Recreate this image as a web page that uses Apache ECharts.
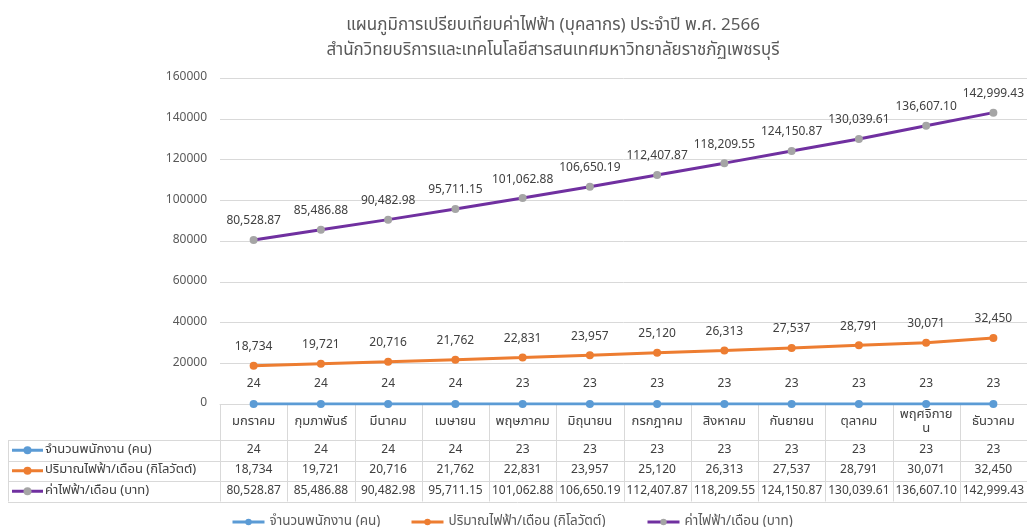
<!DOCTYPE html>
<html>
<head>
<meta charset="utf-8">
<script src="https://cdn.jsdelivr.net/npm/echarts@6/dist/echarts.min.js"></script>
<style>
html,body{margin:0;padding:0;background:#fff;}
#c{width:1027px;height:527px;}
</style>
</head>
<body>
<div id="c"></div>
<script>
const titleText = 'แผนภูมิการเปรียบเทียบค่าไฟฟ้า (บุคลากร) ประจำปี พ.ศ. 2566\nสำนักวิทยบริการและเทคโนโลยีสารสนเทศมหาวิทยาลัยราชภัฏเพชรบุรี';
const categories = ['มกราคม','กุมภาพันธ์','มีนาคม','เมษายน','พฤษภาคม','มิถุนายน','กรกฎาคม','สิงหาคม','กันยายน','ตุลาคม','พฤศจิกายน','ธันวาคม'];
const seriesNames = ['จำนวนพนักงาน (คน)','ปริมาณไฟฟ้า/เดือน (กิโลวัตต์)','ค่าไฟฟ้า/เดือน (บาท)'];
const employees = [24,24,24,24,23,23,23,23,23,23,23,23];
const kwh = [18734,19721,20716,21762,22831,23957,25120,26313,27537,28791,30071,32450];
const cost = [80528.87,85486.88,90482.98,95711.15,101062.88,106650.19,112407.87,118209.55,124150.87,130039.61,136607.10,142999.43];
const yTicks = [0,20000,40000,60000,80000,100000,120000,140000,160000];

const FONT = '"Noto Sans Thai","Tahoma","Leelawadee UI","DejaVu Sans",sans-serif';
const colors = ['#5B9BD5','#ED7D31','#7030A0'];
const markerColors = ['#5B9BD5','#ED7D31','#A5A5A5'];
const fmtInt = v => v.toLocaleString('en-US');
const fmt2 = v => v.toLocaleString('en-US',{minimumFractionDigits:2,maximumFractionDigits:2});
const formatters = [v => String(v), fmtInt, fmt2];
const rows = [employees, kwh, cost];
// wrap long month names like the table cell does: at most 7 base (spacing) Thai characters per line
const isMark = ch => /[\u0E31\u0E34-\u0E3A\u0E47-\u0E4E]/.test(ch);
const wrapCat = s => {
  const chars = Array.from(s); let base = 0, out = '';
  for (const ch of chars) {
    if (!isMark(ch)) { if (base === 7) out += '\n'; base++; }
    out += ch;
  }
  return out;
};

const chart = echarts.init(document.getElementById('c'));
const labelStyle = {show:true, position:'top', distance:8, color:'#404040', fontSize:12, fontFamily:FONT};
const legendX = [231, 410, 646];

const option = {
  animation:false,
  textStyle:{fontFamily:FONT},
  title:{
    text:titleText, left:548, top:9, textAlign:'center',
    textStyle:{fontSize:17, fontWeight:'normal', color:'#595959', lineHeight:25, fontFamily:FONT}
  },
  legend: seriesNames.map((n,i)=>({
    top:515, left:legendX[i], padding:0, itemGap:0, itemWidth:32, itemHeight:8,
    textStyle:{color:'#595959', fontSize:13.5, fontFamily:FONT},
    data:[{name:n, itemStyle:{color:markerColors[i]}, lineStyle:{color:colors[i], width:3}}]
  })),
  grid:{left:220, right:0, top:78, bottom:123, containLabel:false},
  xAxis:{
    type:'category', data:categories, boundaryGap:true,
    axisLine:{show:true, lineStyle:{color:'#d9d9d9'}},
    axisTick:{show:false},
    axisLabel:{show:false}
  },
  yAxis:{
    type:'value', min:0, max:160000, interval:20000,
    axisLine:{show:false}, axisTick:{show:false},
    axisLabel:{color:'#595959', fontSize:12, margin:13, fontFamily:FONT, formatter:v => String(v)},
    splitLine:{lineStyle:{color:'#d9d9d9', width:1}}
  },
  series:[0,1,2].map(i => ({
    name:seriesNames[i], type:'line', data:rows[i],
    symbol:'circle', symbolSize:8,
    lineStyle:{color:colors[i], width:3},
    itemStyle:{color:markerColors[i], borderWidth:0},
    label:Object.assign({}, labelStyle, {formatter:p => formatters[i](p.value), distance: i===0 ? 9 : 8}),
    z: 3+i
  })),
  color:colors
};
chart.setOption(option);

function buildTable(){
  const g = [];
  const top = chart.convertToPixel({yAxisIndex:0}, 0);
  const c0 = chart.convertToPixel({xAxisIndex:0}, 0);
  const c1 = chart.convertToPixel({xAxisIndex:0}, 1);
  const step = c1 - c0;
  const leftEdge = c0 - step/2;
  const rightEdge = leftEdge + step*categories.length;
  const headerBottom = top + 36;
  const rowH = 20.5;
  const tableBottom = headerBottom + rowH*3;
  const tableLeft = 8;
  const lc = '#d9d9d9';
  const line = (x1,y1,x2,y2) => ({type:'line', shape:{x1,y1,x2,y2}, style:{stroke:lc, lineWidth:1}, silent:true, z:1});
  for(let k=0;k<=categories.length;k++){
    const x = Math.round(leftEdge + step*k) + 0.5;
    g.push(line(x, top, x, tableBottom));
  }
  g.push(line(tableLeft+0.5, headerBottom, tableLeft+0.5, tableBottom));
  for(let r=0;r<=3;r++){
    const y = Math.round(headerBottom + rowH*r) + 0.5;
    g.push(line(tableLeft, y, rightEdge, y));
  }
  categories.forEach((cat,k)=>{
    const cx = chart.convertToPixel({xAxisIndex:0}, k);
    g.push({type:'text', x:cx, y:(top+headerBottom)/2, silent:true, z:2,
      style:{text:wrapCat(cat), fill:'#404040', font:'13px '+FONT, align:'center', verticalAlign:'middle', lineHeight:14}});
  });
  rows.forEach((arr,r)=>{
    const cy = headerBottom + rowH*r + rowH/2;
    g.push({type:'line', shape:{x1:12, y1:cy, x2:43, y2:cy}, style:{stroke:colors[r], lineWidth:3}, silent:true, z:2});
    g.push({type:'circle', shape:{cx:27.5, cy:cy, r:4}, style:{fill:markerColors[r]}, silent:true, z:3});
    g.push({type:'text', x:45, y:cy, silent:true, z:2,
      style:{text:seriesNames[r], fill:'#404040', font:'13px '+FONT, align:'left', verticalAlign:'middle'}});
    arr.forEach((v,k)=>{
      const cx = chart.convertToPixel({xAxisIndex:0}, k);
      g.push({type:'text', x:cx, y:cy, silent:true, z:2,
        style:{text:formatters[r](v), fill:'#404040', font:'12px '+FONT, align:'center', verticalAlign:'middle'}});
    });
  });
  chart.setOption({graphic:{elements:g}});
}
buildTable();
</script>
</body>
</html>
